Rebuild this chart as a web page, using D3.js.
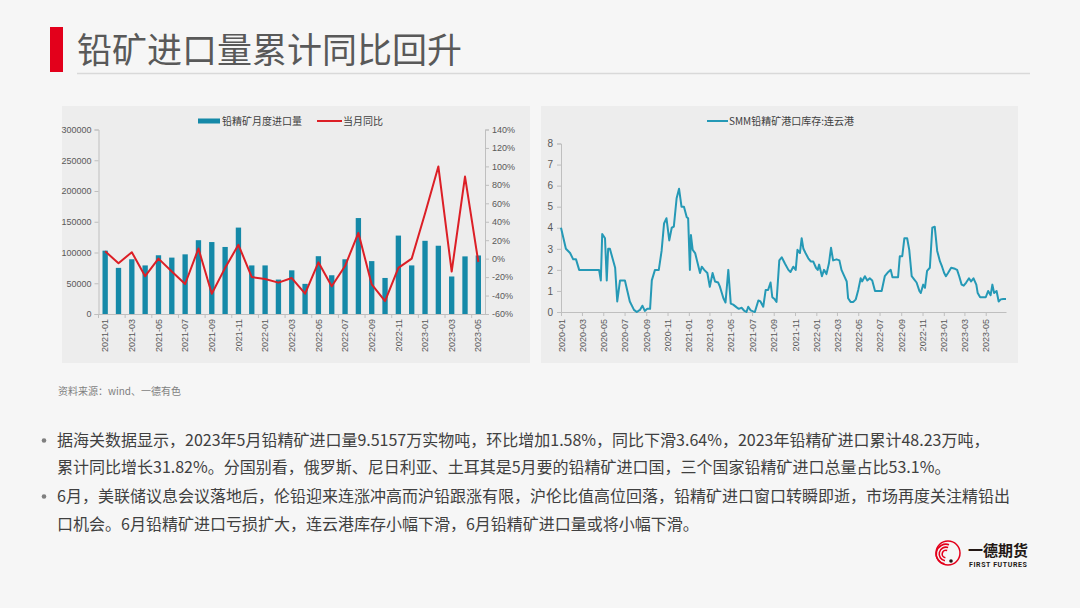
<!DOCTYPE html>
<html>
<head>
<meta charset="utf-8">
<script src="https://cdn.jsdelivr.net/npm/d3@7"></script>
<style>
    body { margin: 0; background: #f6f6f6; }
    svg { display: block; font-family: "Noto Sans CJK SC", "Noto Sans", sans-serif; }
</style>
</head>
<body>
<svg id="page" width="1080" height="608"></svg>
<script>
// monthly lead concentrate imports
var months = ["2021-01", "2021-02", "2021-03", "2021-04", "2021-05", "2021-06", "2021-07", "2021-08", "2021-09", "2021-10",
    "2021-11", "2021-12", "2022-01", "2022-02", "2022-03", "2022-04", "2022-05", "2022-06", "2022-07", "2022-08",
    "2022-09", "2022-10", "2022-11", "2022-12", "2023-01", "2023-02", "2023-03", "2023-04", "2023-05"];
var importVolume = [103000, 75000, 89000, 79000, 95500, 91700, 97000, 120000, 117000, 109000,
    140500, 79000, 79000, 56000, 71000, 49000, 94000, 63000, 89000, 156000,
    86000, 58600, 127500, 79000, 119000, 111000, 61000, 93680, 95157];
var importYoY = [8, -5, 7, -19, 0, -14, -27.5, 11, -38, -10,
    15, -20, -22, -26, -21, -38, -4, -30, -8, 28,
    -28, -46, -10, 0, 49, 100, -14, 89, -3.6];
var volumeTicks = [0, 50000, 100000, 150000, 200000, 250000, 300000];
var yoyTicks = [-60, -40, -20, 0, 20, 40, 60, 80, 100, 120, 140];

// SMM port stock, Lianyungang (10k t)
var stockDates = ["2020-01-01", "2020-01-08", "2020-01-15", "2020-01-27", "2020-02-05", "2020-02-13", "2020-02-22", "2020-04-19", "2020-04-24", "2020-04-28",
    "2020-05-06", "2020-05-11", "2020-05-15", "2020-05-20", "2020-06-04", "2020-06-10", "2020-06-18", "2020-07-02", "2020-07-09", "2020-07-16",
    "2020-07-28", "2020-08-05", "2020-08-14", "2020-08-21", "2020-08-28", "2020-09-04", "2020-09-12", "2020-09-17", "2020-09-26", "2020-10-07",
    "2020-10-15", "2020-10-22", "2020-10-29", "2020-11-06", "2020-11-13", "2020-11-19", "2020-11-27", "2020-12-04", "2020-12-11", "2020-12-18",
    "2020-12-26", "2020-12-30", "2021-01-04", "2021-01-07", "2021-01-12", "2021-01-19", "2021-01-25", "2021-02-02", "2021-02-07", "2021-02-14",
    "2021-02-23", "2021-03-02", "2021-03-10", "2021-03-17", "2021-03-26", "2021-03-31", "2021-04-10", "2021-04-16", "2021-04-24", "2021-05-01",
    "2021-05-08", "2021-05-18", "2021-05-24", "2021-06-01", "2021-06-08", "2021-06-15", "2021-06-20", "2021-06-27", "2021-07-04", "2021-07-09",
    "2021-07-19", "2021-07-25", "2021-08-02", "2021-08-09", "2021-08-16", "2021-08-23", "2021-08-28", "2021-09-04", "2021-09-09", "2021-09-17",
    "2021-09-24", "2021-10-03", "2021-10-13", "2021-10-19", "2021-10-27", "2021-11-03", "2021-11-08", "2021-11-15", "2021-11-20", "2021-11-25",
    "2021-12-01", "2021-12-09", "2021-12-16", "2021-12-23", "2021-12-31", "2022-01-05", "2022-01-09", "2022-01-17", "2022-01-23", "2022-01-30",
    "2022-02-06", "2022-02-12", "2022-02-18", "2022-02-28", "2022-03-08", "2022-03-14", "2022-03-22", "2022-03-29", "2022-04-02", "2022-04-09",
    "2022-04-17", "2022-04-24", "2022-05-01", "2022-05-08", "2022-05-12", "2022-05-20", "2022-05-27", "2022-06-03", "2022-06-10", "2022-06-18",
    "2022-06-27", "2022-07-07", "2022-07-16", "2022-07-26", "2022-08-02", "2022-08-07", "2022-08-16", "2022-08-23", "2022-08-28", "2022-09-04",
    "2022-09-10", "2022-09-18", "2022-09-24", "2022-10-01", "2022-10-08", "2022-10-15", "2022-10-23", "2022-10-27", "2022-11-03", "2022-11-08",
    "2022-11-14", "2022-11-22", "2022-11-29", "2022-12-06", "2022-12-13", "2022-12-21", "2022-12-27", "2023-01-02", "2023-01-07", "2023-01-13",
    "2023-01-22", "2023-02-02", "2023-02-08", "2023-02-14", "2023-02-21", "2023-02-27", "2023-03-06", "2023-03-14", "2023-03-20", "2023-03-27",
    "2023-04-04", "2023-04-08", "2023-04-15", "2023-04-23", "2023-05-01", "2023-05-08", "2023-05-15", "2023-05-20", "2023-05-25", "2023-06-01",
    "2023-06-07", "2023-06-13", "2023-06-20", "2023-06-28"];
var stockValues = [4.0, 3.5, 3.0, 2.8, 2.5, 2.5, 2.0, 2.0, 1.5, 3.7,
    3.5, 1.5, 3.0, 3.0, 2.1, 0.5, 1.5, 1.5, 1.0, 0.5,
    0.1, 0.0, 0.1, 0.3, 0.05, 0.15, 0.15, 1.5, 2.0, 2.0,
    2.9, 4.2, 4.45, 3.4, 4.0, 4.05, 5.4, 5.85, 5.0, 5.0,
    4.5, 4.45, 2.0, 3.65, 2.95, 2.8, 2.4, 1.85, 2.15, 2.0,
    1.85, 1.2, 1.85, 1.45, 1.4, 1.2, 0.65, 0.45, 2.0, 0.4,
    0.35, 0.22, 0.15, 0.2, 0.07, 0.0, 0.25, 0.08, 0.03, 0.0,
    0.55, 0.5, 0.25, 1.05, 1.05, 1.4, 0.7, 0.6, 0.48, 2.45,
    2.6, 2.3, 2.0, 1.9, 2.15, 2.0, 2.95, 2.8, 3.5, 3.0,
    2.8, 2.55, 2.4, 2.4, 2.1, 2.0, 2.25, 1.7, 2.0, 1.8,
    2.3, 3.05, 2.45, 2.5, 2.45, 2.0, 1.7, 1.45, 0.65, 0.48,
    0.48, 0.6, 1.05, 1.6, 1.45, 1.7, 1.5, 1.6, 1.5, 1.0,
    1.0, 1.0, 1.7, 1.9, 2.0, 1.65, 1.65, 1.65, 2.65, 2.65,
    3.5, 3.5, 2.95, 1.7, 1.55, 1.4, 1.0, 0.9, 1.3, 1.15,
    1.95, 2.1, 4.0, 4.05, 2.9, 2.4, 2.15, 1.85, 1.7, 1.85,
    2.1, 2.05, 2.0, 1.7, 1.3, 1.25, 1.4, 1.6, 1.45, 1.6,
    1.3, 0.9, 0.7, 0.7, 0.7, 1.0, 0.8, 1.3, 0.9, 1.0,
    0.5, 0.6, 0.62, 0.62];
var stockTicks = [0, 1, 2, 3, 4, 5, 6, 7, 8];

var titleText = "铅矿进口量累计同比回升";
var sourceText = "资料来源：wind、一德有色";
var bulletLines = [
    {bullet: true, text: "据海关数据显示，2023年5月铅精矿进口量9.5157万实物吨，环比增加1.58%，同比下滑3.64%，2023年铅精矿进口累计48.23万吨，"},
    {bullet: false, text: "累计同比增长31.82%。分国别看，俄罗斯、尼日利亚、土耳其是5月要的铅精矿进口国，三个国家铅精矿进口总量占比53.1%。"},
    {bullet: true, text: "6月，美联储议息会议落地后，伦铅迎来连涨冲高而沪铅跟涨有限，沪伦比值高位回落，铅精矿进口窗口转瞬即逝，市场再度关注精铅出"},
    {bullet: false, text: "口机会。6月铅精矿进口亏损扩大，连云港库存小幅下滑，6月铅精矿进口量或将小幅下滑。"}
];

var svg = d3.select("#page");
var axisGray = "#bfbfbf";
var labelGray = "#595959";

var styleAxis = function(g) {
    g.selectAll(".domain").attr("stroke", axisGray);
    g.selectAll(".tick line").attr("stroke", axisGray);
    g.selectAll(".tick text").attr("fill", labelGray).style("font-size", "9px");
};

// heading
svg.append("rect").attr("x", 50).attr("y", 27).attr("width", 13).attr("height", 45).attr("fill", "#e3001b");
svg.append("text")
    .attr("x", 77).attr("y", 63)
    .attr("fill", "#595959")
    .style("font-size", "35px")
    .text(titleText);
svg.append("line")
    .attr("x1", 77).attr("x2", 1030).attr("y1", 73.5).attr("y2", 73.5)
    .attr("stroke", "#d9d9d9").attr("stroke-width", 1.5);

// panels
svg.append("rect").attr("x", 62).attr("y", 106).attr("width", 468).attr("height", 257).attr("fill", "#ededed");
svg.append("rect").attr("x", 541).attr("y", 106).attr("width", 477).attr("height", 257).attr("fill", "#ededed");

// ---- left chart: imports + yoy ----
var x = d3.scaleBand().domain(months).range([98.5, 485]).paddingInner(0.6).paddingOuter(0.3);
var yL = d3.scaleLinear().domain([0, 300000]).range([314, 129.5]);
var yR = d3.scaleLinear().domain([-60, 140]).range([314, 129.5]);

var left = svg.append("g");

left.selectAll("rect.bar")
    .data(months)
    .enter().append("rect")
    .attr("class", "bar")
    .attr("x", function(d) { return x(d); })
    .attr("width", x.bandwidth())
    .attr("y", function(d, i) { return yL(importVolume[i]); })
    .attr("height", function(d, i) { return yL(0) - yL(importVolume[i]); })
    .attr("fill", "#1589a8");

left.append("g")
    .attr("transform", "translate(98.5,0)")
    .call(d3.axisLeft(yL).tickValues(volumeTicks).tickSize(4).tickPadding(3).tickFormat(d3.format("d")))
    .call(styleAxis);

left.append("g")
    .attr("transform", "translate(485,0)")
    .call(d3.axisRight(yR).tickValues(yoyTicks).tickSize(4).tickPadding(3).tickFormat(function(d) { return d + "%"; }))
    .call(styleAxis);

var xAxisL = left.append("g")
    .attr("transform", "translate(0,314)")
    .call(d3.axisBottom(x).tickValues(months.filter(function(d, i) { return i % 2 === 0; })).tickSize(0).tickSizeOuter(0))
    .call(styleAxis);
xAxisL.selectAll(".tick text")
    .attr("transform", "rotate(-90)")
    .attr("x", -5).attr("y", 0).attr("dy", "0.35em")
    .style("text-anchor", "end");
// category boundary ticks every two months
xAxisL.selectAll("line.sep")
    .data(months.filter(function(d, i) { return i % 2 === 0; }))
    .enter().append("line")
    .attr("class", "sep")
    .attr("x1", function(d) { return x(d) - x.step() * x.paddingInner() / 2; })
    .attr("x2", function(d) { return x(d) - x.step() * x.paddingInner() / 2; })
    .attr("y1", 0).attr("y2", 4)
    .attr("stroke", axisGray);

var yoyLine = d3.line()
    .x(function(d) { return x(d) + x.bandwidth() / 2; })
    .y(function(d, i) { return yR(importYoY[i]); });

left.append("path")
    .datum(months)
    .attr("d", yoyLine)
    .attr("fill", "none")
    .attr("stroke", "#dc1f26")
    .attr("stroke-width", 2)
    .attr("stroke-linejoin", "round");

// legend
left.append("rect").attr("x", 198).attr("y", 118.5).attr("width", 22).attr("height", 5).attr("fill", "#1589a8");
left.append("text").attr("x", 222).attr("y", 121).attr("dy", "0.35em")
    .attr("fill", "#404040").style("font-size", "10px").text("铅精矿月度进口量");
left.append("line").attr("x1", 317).attr("x2", 342).attr("y1", 121).attr("y2", 121)
    .attr("stroke", "#dc1f26").attr("stroke-width", 2);
left.append("text").attr("x", 343).attr("y", 121).attr("dy", "0.35em")
    .attr("fill", "#404040").style("font-size", "10px").text("当月同比");

// ---- right chart: port stock ----
var parseDay = d3.timeParse("%Y-%m-%d");
var stock = stockDates.map(function(d, i) { return {date: parseDay(d), value: stockValues[i]}; });

var xS = d3.scaleTime().domain([parseDay("2020-01-01"), parseDay("2023-06-28")]).range([561, 1006]);
var yS = d3.scaleLinear().domain([0, 8]).range([312, 143.5]);

var right = svg.append("g");

right.append("g")
    .attr("transform", "translate(561,0)")
    .call(d3.axisLeft(yS).tickValues(stockTicks).tickSize(4).tickPadding(4))
    .call(styleAxis)
    .selectAll(".tick text").style("font-size", "10px");

var xAxisR = right.append("g")
    .attr("transform", "translate(0,312)")
    .call(d3.axisBottom(xS)
        .tickValues(d3.timeMonth.every(2).range(parseDay("2020-01-01"), parseDay("2023-06-02")))
        .tickSize(4).tickSizeOuter(0)
        .tickFormat(d3.timeFormat("%Y-%m")))
    .call(styleAxis);
xAxisR.selectAll(".tick text")
    .attr("transform", "rotate(-90)")
    .attr("x", -7).attr("y", 0).attr("dy", "0.35em")
    .style("text-anchor", "end");

right.append("path")
    .datum(stock)
    .attr("d", d3.line()
        .x(function(d) { return xS(d.date); })
        .y(function(d) { return yS(d.value); }))
    .attr("fill", "none")
    .attr("stroke", "#2599b6")
    .attr("stroke-width", 2)
    .attr("stroke-linejoin", "round");

right.append("line").attr("x1", 707).attr("x2", 728).attr("y1", 121).attr("y2", 121)
    .attr("stroke", "#2599b6").attr("stroke-width", 2);
right.append("text").attr("x", 729).attr("y", 121).attr("dy", "0.35em")
    .attr("fill", "#404040").style("font-size", "10px").text("SMM铅精矿港口库存:连云港");

// ---- notes ----
svg.append("text")
    .attr("x", 58).attr("y", 391).attr("dy", "0.35em")
    .attr("fill", "#7f7f7f").style("font-size", "10px")
    .text(sourceText);

var lineY = [440, 467, 496, 524];
var notes = svg.append("g");
notes.selectAll("text.note")
    .data(bulletLines)
    .enter().append("text")
    .attr("class", "note")
    .attr("x", 57)
    .attr("y", function(d, i) { return lineY[i]; })
    .attr("dy", "0.35em")
    .attr("fill", "#404040")
    .style("font-size", "16px")
    .text(function(d) { return d.text; });
notes.selectAll("circle.dot")
    .data(bulletLines.filter(function(d) { return d.bullet; }))
    .enter().append("circle")
    .attr("class", "dot")
    .attr("cx", 44)
    .attr("cy", function(d) { return lineY[bulletLines.indexOf(d)] + 0.5; })
    .attr("r", 2.3)
    .attr("fill", "#7f7f7f");

// ---- logo ----
var logo = svg.append("g").attr("transform", "translate(948,553)");
logo.append("circle").attr("r", 12).attr("fill", "none").attr("stroke", "#e3001b").attr("stroke-width", 1.5);
[3, 6, 9].forEach(function(r) {
    logo.append("path")
        .attr("d", d3.arc().innerRadius(r).outerRadius(r + 1.6).startAngle(-Math.PI * 0.95).endAngle(Math.PI * 0.1))
        .attr("transform", "translate(-2,1)")
        .attr("fill", "#e3001b");
});
logo.append("circle").attr("cx", 3).attr("cy", 8).attr("r", 1.8).attr("fill", "#231815");
svg.append("text").attr("x", 968).attr("y", 556)
    .attr("fill", "#231815").style("font-size", "15px").style("font-weight", "bold").text("一德期货");
svg.append("text").attr("x", 969).attr("y", 567)
    .attr("fill", "#231815").style("font-size", "7px").style("font-weight", "bold")
    .style("letter-spacing", "0.6px").style("font-family", "Roboto, sans-serif").text("FIRST FUTURES");
</script>
</body>
</html>
